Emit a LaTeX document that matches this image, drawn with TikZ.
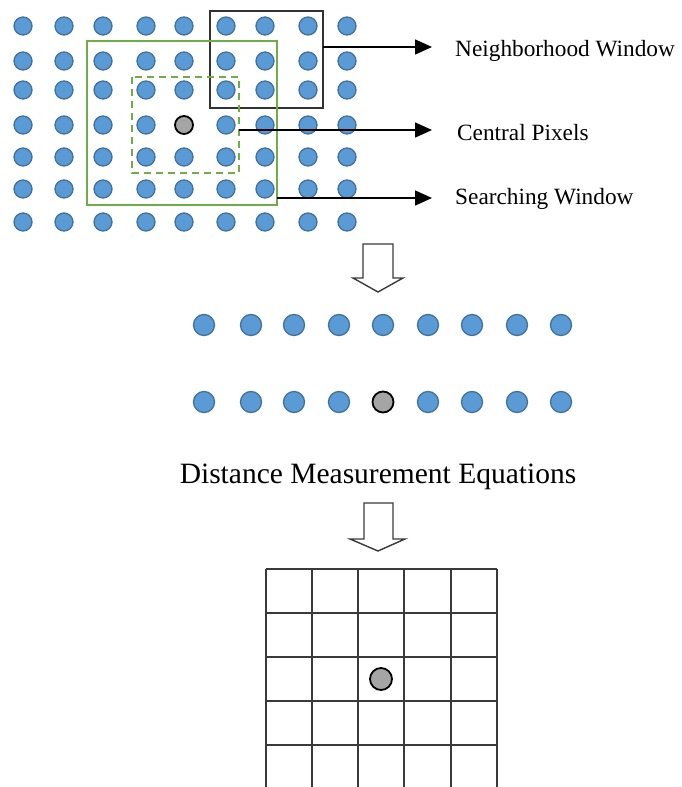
\documentclass[tikz,border=0pt]{standalone}
\usepackage{fontspec}
\setmainfont{Liberation Serif}
\usetikzlibrary{arrows.meta}
\definecolor{dotblue}{HTML}{5B9BD5}
\definecolor{dotedge}{HTML}{41719C}
\definecolor{grn}{HTML}{70AD47}
\definecolor{gry}{HTML}{A5A5A5}
\definecolor{linegray}{HTML}{3A3A3A}
\begin{document}
\begin{tikzpicture}[x=1pt,y=-1pt,
  bluedot/.style={circle,fill=dotblue,draw=dotedge,line width=1.3pt,minimum size=18pt,inner sep=0pt},
  bigdot/.style={bluedot,minimum size=21pt},
  centerdot/.style={circle,fill=gry,draw=black,line width=1.8pt,minimum size=18pt,inner sep=0pt},
  bigcenterdot/.style={centerdot,minimum size=21pt},
  lbl/.style={inner sep=0pt,font=\fontsize{23.3}{28}\selectfont},
  title/.style={inner sep=0pt,font=\fontsize{29.5}{34}\selectfont},
  arr/.style={line width=1.5pt,-{Triangle[length=17pt,width=15pt]}},
  hollow/.style={draw=linegray,fill=white,line width=1.4pt,line join=miter},
  gridline/.style={draw=linegray,line width=1.5pt}]
\useasboundingbox (0,0) rectangle (682,787);
% top grid of pixels
\foreach \x [count=\i] in {23,64,103,146,184,226,265,308,347}{
  \foreach \y [count=\j] in {26,61,90,125,157,189,222}{
    \ifnum\i=5 \ifnum\j=4
      \node[centerdot] (t-\i-\j) at (\x,\y) {};
    \else
      \node[bluedot] (t-\i-\j) at (\x,\y) {};
    \fi\else
      \node[bluedot] (t-\i-\j) at (\x,\y) {};
    \fi
  }
}
% windows
\draw[black!80,line width=2pt] (210,11) rectangle (323,108);
\draw[grn,line width=2pt] (87,41) rectangle (277,205);
\draw[grn,line width=2pt,dash pattern=on 7pt off 5pt] (132,77) rectangle (239,173);
% labels
\node[lbl,anchor=west] (nwl) at (455,51) {Neighborhood Window};
\node[lbl,anchor=west] (cpl) at (457,133) {Central Pixels};
\node[lbl,anchor=west] (swl) at (455,199) {Searching Window};
\coordinate (nws) at (323,47);
\coordinate (cps) at (239,130);
\coordinate (sws) at (277,198);
\draw[arr] (nws) -- (nws -| 432,0);
\draw[arr] (cps) -- (cps -| 432,0);
\draw[arr] (sws) -- (sws -| 432,0);
% hollow arrow 1
\draw[hollow] (363,244) -- (393,244) -- (393,278) -- (403,278) -- (378,292) -- (353,278) -- (363,278) -- cycle;
% middle rows
\foreach \x [count=\i] in {204,251,294,339,383,428,472,517,561}{
  \node[bigdot] (m1-\i) at (\x,325) {};
  \ifnum\i=5
    \node[bigcenterdot] (m2-\i) at (\x,402) {};
  \else
    \node[bigdot] (m2-\i) at (\x,402) {};
  \fi
}
\node[title] (dme) at (378,477) {Distance Measurement Equations};
% hollow arrow 2
\draw[hollow] (364,503) -- (393,503) -- (393,539) -- (405,539) -- (378,551) -- (350,539) -- (364,539) -- cycle;
% bottom grid
\foreach \x in {266,312,358,404,451,497}{
  \draw[gridline] (\x,569) -- (\x,790);
}
\foreach \y in {569,613,657,701,745}{
  \draw[gridline] (266,\y) -- (497,\y);
}
\node[bigcenterdot,minimum size=22pt] (gc) at (381,679) {};
\end{tikzpicture}
\end{document}
